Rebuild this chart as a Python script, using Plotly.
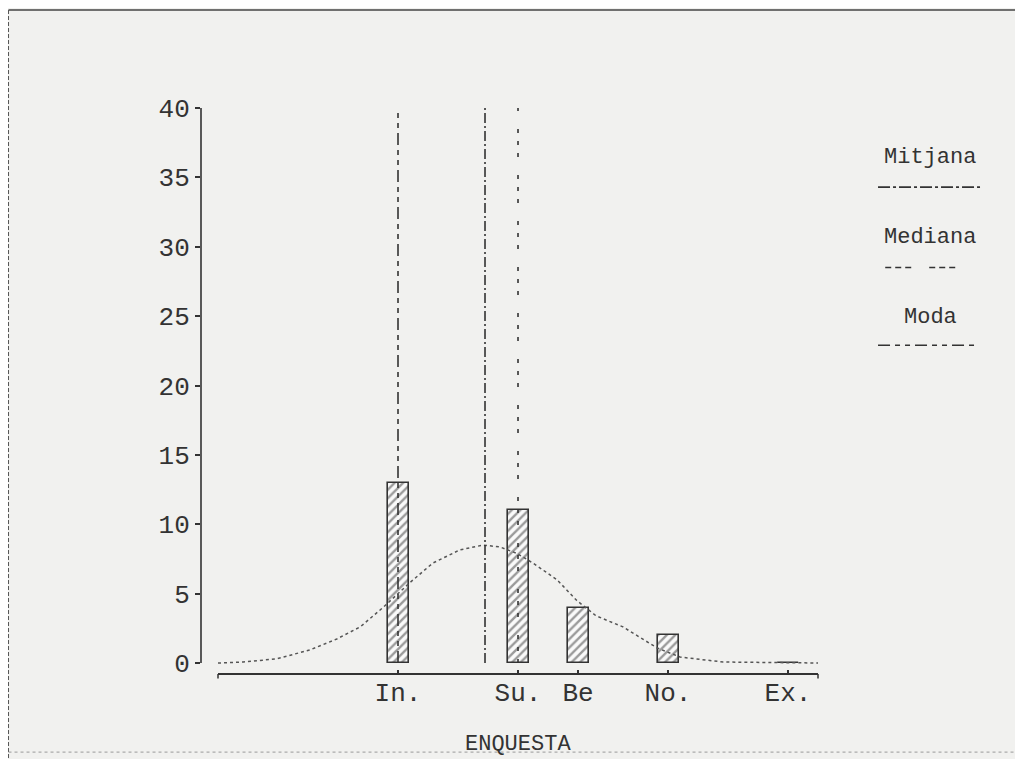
import plotly.graph_objects as go

# ---- data ----
categories = ["In.", "Su.", "Be", "No.", "Ex."]
cat_pos = [3, 5, 6, 7.5, 9.5]
counts = [13, 11, 4, 2, 0]

curve_x = [0, 0.42, 0.98, 1.53, 1.98, 2.37, 2.75, 3.2, 3.58, 4.03, 4.42, 4.7,
           4.98, 5.25, 5.65, 5.98, 6.3, 6.75, 7.32, 7.7, 8.42, 10]
curve_y = [0, 0.07, 0.3, 0.94, 1.73, 2.6, 4.0, 5.8, 7.2, 8.15, 8.5, 8.36,
           7.9, 7.2, 6.0, 4.5, 3.4, 2.6, 1.08, 0.43, 0.07, 0]

stat_names = ["Mitjana", "Mediana", "Moda"]
stat_values = [4.45, 5, 3]

y_ticks = [0, 5, 10, 15, 20, 25, 30, 35, 40]
x_title = "ENQUESTA"

# ---- style ----
INK = "#333333"
PAPER = "#f1f1ef"
FONT = "Liberation Mono"
dashes = {"Mitjana": "10px,3px,2px,3px",
          "Mediana": "4px,8px,4px,8px,4px,18px",
          "Moda": "12px,5px,5px,5px,5px,5px"}
legend_dashes = {"Mitjana": "12px,3px,3px,3px",
                 "Mediana": "6px,4px,6px,4px,6px,18px",
                 "Moda": "12px,5px,5px,5px,5px,5px"}

fig = go.Figure()

fig.add_trace(go.Bar(
    x=cat_pos, y=counts, width=0.35,
    marker=dict(color="white",
                line=dict(color=INK, width=1.6),
                pattern=dict(shape="/", fgcolor="#3a3a3a", bgcolor="#fafafa",
                             size=6, solidity=0.4)),
    showlegend=False, hoverinfo="skip"))

fig.add_trace(go.Scatter(
    x=curve_x, y=curve_y, mode="lines", line=dict(color="#555555", width=1.5, dash="dot"),
    showlegend=False, hoverinfo="skip"))

for name, val in zip(stat_names, stat_values):
    fig.add_shape(type="line", x0=val, x1=val, y0=0, y1=40, xref="x", yref="y",
                  line=dict(color=INK, width=1.6, dash=dashes[name]))

# axis lines drawn as in the plotter output (offset axes)
fig.add_shape(type="line", xref="paper", yref="y", x0=0, x1=0, y0=0, y1=40,
              line=dict(color=INK, width=1.6))
fig.add_shape(type="line", xref="x", yref="paper", x0=0, x1=10, y0=0, y1=0,
              line=dict(color=INK, width=2))
for xv in [0, 10]:
    fig.add_shape(type="line", xref="x", yref="paper", x0=xv, x1=xv, y0=0, y1=-0.008,
                  line=dict(color=INK, width=1.5))

# legend (hand drawn, like the plotter)
legend_text_y = [36.4, 30.7, 24.9]
legend_line_y = [34.3, 28.5, 22.9]
legend_line_x = [(11.0, 12.7), (11.12, 12.4), (11.0, 12.62)]
for name, ty, ly, (lx0, lx1) in zip(stat_names, legend_text_y, legend_line_y, legend_line_x):
    fig.add_annotation(x=11.87, y=ty, xref="x", yref="y", text=name, showarrow=False,
                       font=dict(family=FONT, size=22, color=INK))
    fig.add_shape(type="line", x0=lx0, x1=lx1, y0=ly, y1=ly, xref="x", yref="y",
                  line=dict(color=INK, width=1.6, dash=legend_dashes[name]))

fig.add_annotation(x=5, y=-0.125, xref="x", yref="paper", text=x_title, showarrow=False,
                   font=dict(family=FONT, size=22, color=INK), yanchor="middle")

# page frame
fig.add_shape(type="line", xref="paper", yref="paper", x0=-0.2409, x1=1.03, y0=1.1731, y1=1.1731,
              line=dict(color="#444444", width=1.5))
fig.add_shape(type="line", xref="paper", yref="paper", x0=-0.2409, x1=-0.2409, y0=1.1731, y1=-0.15,
              line=dict(color="#555555", width=1, dash="4px,2px"))
fig.add_shape(type="line", xref="paper", yref="paper", x0=-0.2409, x1=1.03, y0=-0.138, y1=-0.138,
              line=dict(color="#999999", width=1, dash="3px,3px"))

fig.update_layout(
    width=1015, height=751,
    margin=dict(l=193, r=23, t=100, b=85),
    paper_bgcolor=PAPER, plot_bgcolor=PAPER,
    bargap=0, showlegend=False,
    font=dict(family=FONT, color=INK),
    xaxis=dict(range=[-0.2833, 13.033], showgrid=False, zeroline=False, showline=False,
               tickvals=cat_pos, ticktext=categories, ticks="inside", ticklen=4,
               tickcolor=INK, tickwidth=1.5,
               tickfont=dict(family=FONT, size=26, color=INK)),
    yaxis=dict(range=[-0.793, 40], showgrid=False, zeroline=False, showline=False,
               tickvals=y_ticks, ticks="outside", ticklen=5, tickcolor=INK, tickwidth=1.5,
               tickfont=dict(family=FONT, size=26, color=INK)),
)

fig.write_html("out.html")
